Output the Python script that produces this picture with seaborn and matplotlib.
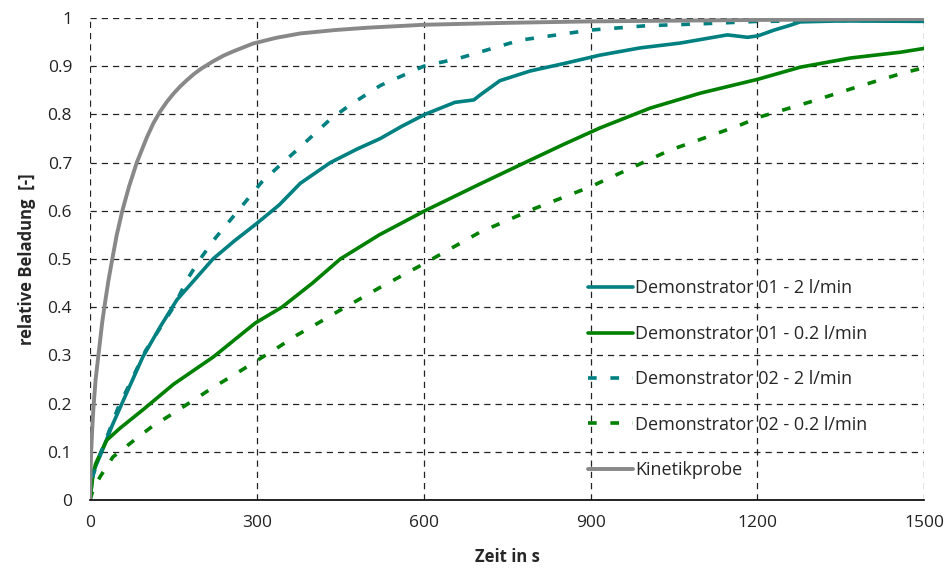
import matplotlib
matplotlib.use('Agg')
import matplotlib.pyplot as plt
import seaborn as sns
import numpy as np

# Values (time in s, relative loading)
t_kin = [0, 1, 2, 4, 6, 10, 14, 18, 22, 27, 33, 40, 48, 58, 70, 84, 102, 114, 126, 138, 150, 162, 174, 187, 200, 221, 240, 260, 293, 335, 378, 440, 500, 600, 750, 900, 1200, 1500]
y_kin = [0, 0.06, 0.1, 0.15, 0.19, 0.25, 0.29, 0.33, 0.37, 0.41, 0.455, 0.5, 0.55, 0.6, 0.65, 0.7, 0.752, 0.782, 0.806, 0.826, 0.843, 0.858, 0.871, 0.884, 0.895, 0.91, 0.922, 0.932, 0.947, 0.959, 0.968, 0.975, 0.98, 0.986, 0.99, 0.993, 0.996, 0.998]

t_d01_2 = [0, 5, 21, 40, 60, 95, 126, 156, 221, 260, 300, 340, 378, 432, 480, 522, 560, 602, 656, 690, 701, 737, 791, 850, 917, 989, 1061, 1146, 1182, 1201, 1230, 1259, 1277, 1350, 1500]
y_d01_2 = [0, 0.056, 0.1, 0.155, 0.207, 0.297, 0.359, 0.415, 0.5, 0.538, 0.574, 0.612, 0.657, 0.7, 0.728, 0.75, 0.775, 0.8, 0.825, 0.83, 0.84, 0.87, 0.89, 0.905, 0.923, 0.938, 0.948, 0.965, 0.96, 0.963, 0.975, 0.985, 0.992, 0.994, 0.993]

t_d01_02 = [0, 5, 10, 20, 30, 54, 95, 150, 222, 297, 345, 400, 450, 520, 602, 700, 782, 850, 917, 1007, 1097, 1201, 1277, 1367, 1457, 1500]
y_d01_02 = [0, 0.05, 0.075, 0.1, 0.124, 0.149, 0.187, 0.24, 0.297, 0.367, 0.4, 0.45, 0.5, 0.55, 0.6, 0.655, 0.7, 0.737, 0.772, 0.813, 0.844, 0.873, 0.898, 0.917, 0.929, 0.937]

t_d02_2 = [0, 5, 20, 50, 100, 150, 176, 198, 225, 279, 309, 342, 372, 432, 468, 522, 600, 665, 773, 900, 1000, 1100, 1200, 1500]
y_d02_2 = [0, 0.05, 0.1, 0.19, 0.31, 0.4, 0.46, 0.5, 0.543, 0.618, 0.66, 0.695, 0.726, 0.79, 0.82, 0.86, 0.9, 0.917, 0.954, 0.975, 0.984, 0.988, 0.993, 0.996]

t_d02_02 = [0, 5, 18, 41, 75, 111, 150, 186, 222, 261, 297, 336, 372, 410, 450, 520, 600, 700, 800, 900, 1043, 1085, 1169, 1205, 1295, 1379, 1462, 1500]
y_d02_02 = [0, 0.02, 0.048, 0.089, 0.12, 0.152, 0.18, 0.207, 0.234, 0.261, 0.287, 0.315, 0.342, 0.367, 0.394, 0.44, 0.49, 0.555, 0.605, 0.65, 0.726, 0.743, 0.778, 0.795, 0.826, 0.857, 0.886, 0.897]

labels = ["Demonstrator 01 - 2 l/min", "Demonstrator 01 - 0.2 l/min",
          "Demonstrator 02 - 2 l/min", "Demonstrator 02 - 0.2 l/min", "Kinetikprobe"]

sns.set_style("white")
plt.rcParams['font.family'] = ['Open Sans', 'DejaVu Sans']

teal = '#008080'
green = '#008000'
gray = '#888888'

fig, ax = plt.subplots(figsize=(9.48, 5.72), dpi=100)
fig.subplots_adjust(left=0.095, right=0.975, bottom=0.126, top=0.9685)

sns.lineplot(x=t_d01_2, y=y_d01_2, ax=ax, color=teal, lw=2.6, label=labels[0])
sns.lineplot(x=t_d01_02, y=y_d01_02, ax=ax, color=green, lw=2.6, label=labels[1])
sns.lineplot(x=t_d02_2, y=y_d02_2, ax=ax, color=teal, lw=2.6, label=labels[2], dashes=(2.4, 3.8))
sns.lineplot(x=t_d02_02, y=y_d02_02, ax=ax, color=green, lw=2.6, label=labels[3], dashes=(2.4, 3.8))
sns.lineplot(x=t_kin, y=y_kin, ax=ax, color=gray, lw=2.8, label=labels[4])

ax.set_xlim(0, 1500)
ax.set_ylim(0, 1)
ax.set_xticks([0, 300, 600, 900, 1200, 1500])
ax.set_yticks(np.arange(0, 1.01, 0.1))
ax.set_yticklabels(['0'] + ['%.1f' % v for v in np.arange(0.1, 0.95, 0.1)] + ['1'])
ax.grid(True, color='#222222', linestyle=(0, (5, 4)), lw=0.9)
ax.set_axisbelow(True)
for s in ['top', 'right', 'left']:
    ax.spines[s].set_visible(False)
ax.spines['bottom'].set_color('black')
ax.spines['bottom'].set_linewidth(1.2)
ax.tick_params(axis='x', direction='inout', length=8, width=0.9, labelsize=12.5, pad=7, colors='#222222')
ax.tick_params(axis='y', length=0, labelsize=12.5, pad=13, colors='#222222')

ax.set_xlabel("Zeit in s", fontsize=12, fontweight='bold', labelpad=12)
ax.set_ylabel("relative Beladung  [-]", fontsize=12, fontweight='bold', labelpad=8)

ax.legend(loc='lower left', bbox_to_anchor=(0.597, 0.043), frameon=False, fontsize=13,
          labelspacing=1.52, handlelength=2.5, handletextpad=0.1, borderaxespad=0, borderpad=0)

plt.savefig('out.png', dpi=100)
